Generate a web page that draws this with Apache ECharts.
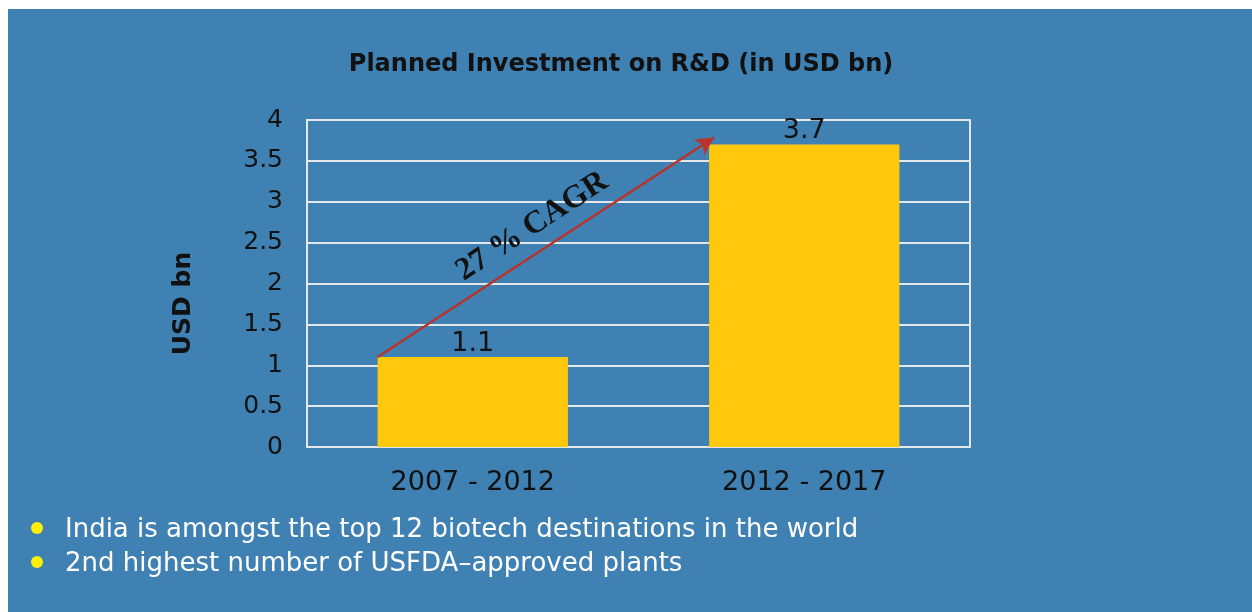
<!DOCTYPE html>
<html>
<head>
<meta charset="utf-8">
<script src="https://cdn.jsdelivr.net/npm/echarts@6/dist/echarts.min.js"></script>
<style>
  html, body { margin: 0; padding: 0; background: #fff; }
  #panel { position: absolute; left: 8px; top: 9px; width: 1244px; height: 603px; background: #4081b4; }
  #chart { position: absolute; left: 0; top: 0; width: 1252px; height: 612px; }
</style>
</head>
<body>
<div id="panel"></div>
<div id="chart"></div>
<script>
  // data
  const categories = ['2007 - 2012', '2012 - 2017'];
  const investment = [1.1, 3.7];
  const yMin = 0, yMax = 4, yStep = 0.5;
  const titleText = 'Planned Investment on R&D (in USD bn)';
  const yName = 'USD bn';
  const cagrText = '27 % CAGR';
  const bullets = [
    'India is amongst the top 12 biotech destinations in the world',
    '2nd highest number of USFDA\u2013approved plants'
  ];

  const font = 'DejaVu Sans';
  const gridColor = '#e4e8ec';
  const ink = '#111';

  let chart = echarts.init(document.getElementById('chart'), null, { renderer: 'canvas' });

  let bulletGraphics = [];
  bullets.forEach(function (txt, i) {
    bulletGraphics.push({
      type: 'circle',
      shape: { cx: 37, cy: 528 + i * 34, r: 6 },
      style: { fill: '#fff200' }
    });
    bulletGraphics.push({
      type: 'text',
      x: 65, y: 530 + i * 34,
      style: {
        text: txt, fill: '#fff', font: '26px "' + font + '"',
        verticalAlign: 'middle'
      }
    });
  });

  chart.setOption({
    animation: false,
    title: {
      text: titleText,
      left: 616, top: 48, textAlign: 'center',
      textStyle: { fontFamily: font, fontWeight: 'bold', fontSize: 24, color: ink }
    },
    grid: {
      left: 307, right: 282, top: 120, bottom: 165,
      show: true, borderColor: gridColor, borderWidth: 2
    },
    xAxis: {
      type: 'category',
      data: categories,
      axisLine: { show: true, lineStyle: { color: gridColor, width: 2 } },
      axisTick: { show: false },
      axisLabel: { fontFamily: font, fontSize: 27, color: ink, margin: 22 }
    },
    yAxis: {
      type: 'value',
      min: yMin, max: yMax, interval: yStep,
      name: yName,
      nameLocation: 'middle',
      nameGap: 111,
      nameRotate: 90,
      nameTextStyle: {
        fontFamily: font, fontWeight: 'bold', fontSize: 25, color: ink,
        padding: [0, 40, 0, 0]
      },
      axisLine: { show: true, lineStyle: { color: gridColor, width: 2 } },
      axisTick: { show: false },
      splitLine: { lineStyle: { color: gridColor, width: 2 } },
      axisLabel: { fontFamily: font, fontSize: 25, color: ink, margin: 24 }
    },
    series: [{
      type: 'bar',
      data: investment,
      barWidth: '57.4%',
      itemStyle: { color: '#ffc80d' },
      label: {
        show: true, position: 'top', distance: 0,
        fontFamily: font, fontSize: 27, color: ink
      }
    }],
    graphic: bulletGraphics
  });

  // arrow from top-left corner of first bar to top-left of second bar
  let p0 = chart.convertToPixel({ gridIndex: 0 }, [0, investment[0]]);
  let p1 = chart.convertToPixel({ gridIndex: 0 }, [1, investment[1]]);
  let band = p1[0] - p0[0];
  let half = band * 0.574 / 2;
  chart.setOption({
    series: [{
      markLine: {
        silent: true,
        symbol: ['none', 'arrow'],
        symbolSize: [14, 18],
        lineStyle: { color: '#b8342a', width: 2.5, type: 'solid' },
        label: {
          show: true, position: 'middle', distance: 9,
          formatter: cagrText,
          fontFamily: 'Liberation Serif', fontWeight: 'bold', fontSize: 32, color: ink
        },
        data: [[
          { x: p0[0] - half, y: p0[1] },
          { x: p1[0] - half + 5, y: p1[1] - 7 }
        ]]
      }
    }]
  });
</script>
</body>
</html>
